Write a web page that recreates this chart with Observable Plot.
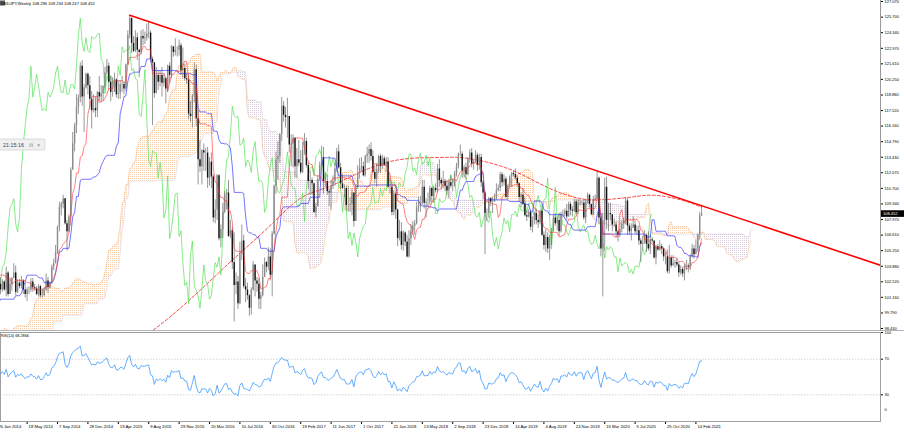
<!DOCTYPE html>
<html><head><meta charset="utf-8">
<script src="https://cdn.jsdelivr.net/npm/d3@7"></script>
<script src="https://cdn.jsdelivr.net/npm/@observablehq/plot@0.6"></script>
<style>
html,body{margin:0;padding:0;background:#fff;}
body{width:904px;height:434px;overflow:hidden;position:relative;font-family:"Liberation Sans",Arial,sans-serif;}
#main{position:absolute;left:0;top:0;}
#rsi{position:absolute;left:0;top:331px;}
.sep{position:absolute;background:#b4b4b4;}
</style></head><body>
<svg width="0" height="0" style="position:absolute"><defs>
<pattern id="cloudUp" width="2" height="2" patternUnits="userSpaceOnUse"><rect x="0" y="0" width="1" height="1" fill="#F4A460" fill-opacity="0.55"/></pattern>
<pattern id="cloudDn" width="2" height="2" patternUnits="userSpaceOnUse"><rect x="0" y="0" width="1" height="1" fill="#bcaabc" fill-opacity="0.6"/></pattern>
</defs></svg>
<div id="main"></div>
<div class="sep" style="left:0;top:330px;width:904px;height:1px"></div>
<div class="sep" style="left:880px;top:0;width:1px;height:331px;background:#9a9a9a"></div>
<div id="rsi"></div>
<script>
// ---- labels / meta ----
const symbol = "USDJPY";
const timeframe = "Weekly";
const rsiName = "RSI(14)";
const rsiLabelValue = "68.2866";
const clockText = "21:15:16";

// ---- weekly history before the visible window (5 Aug 2012 .. 19 Jan 2014), used by the indicators ----
const preHi = [78.9,79.6,79.6,78.9,78.9,78.5,79.2,78.1,78.8,78.9,
79.5,80.4,80.7,80.6,81.5,82.8,82.6,82.8,84.0,84.6,
86.0,88.4,89.7,90.2,91.0,92.9,94.1,94.5,94.0,94.8,
96.2,96.7,96.0,94.9,97.8,99.9,99.3,99.9,99.2,101.9,
103.3,103.7,102.5,100.8,98.8,98.3,99.2,101.2,101.5,101.0,
101.0,99.0,99.9,98.4,98.9,99.1,100.2,100.6,99.6,99.7,
98.5,98.7,99.0,98.5,98.8,99.1,100.4,101.6,102.4,103.4,
103.5,104.6,105.4,105.4,105.0,104.9,104.9];
const preLo = [78.1,78.2,78.4,78.2,78.1,77.1,77.9,77.4,77.7,78.0,
78.5,79.3,79.4,79.4,79.4,81.0,81.7,81.7,82.3,83.5,
84.3,85.9,87.1,88.4,88.1,90.5,91.9,92.2,92.6,90.9,
93.1,95.0,94.2,93.5,92.6,97.3,95.8,97.3,97.1,98.8,
101.0,100.7,97.8,95.6,93.8,93.9,96.8,98.9,98.1,99.2,
98.2,97.0,96.0,95.8,96.8,96.8,97.8,98.9,97.8,98.2,
96.9,96.6,97.6,97.2,97.2,97.6,98.8,99.7,101.1,101.6,
102.3,102.7,103.9,104.1,103.8,102.9,102.1];
const preCl = [78.3,79.5,78.7,78.4,78.2,78.4,77.9,77.9,78.7,78.4,
79.3,79.6,80.4,79.5,81.3,82.3,82.4,82.4,83.5,84.2,
85.9,88.1,89.2,90.1,90.8,92.7,93.6,93.5,93.4,93.6,
96.0,95.2,94.5,94.2,97.6,98.4,98.0,98.0,99.0,101.6,
102.2,101.0,100.4,97.5,94.2,97.9,99.1,101.1,99.2,100.5,
98.3,98.9,96.2,97.5,98.7,98.1,99.6,99.4,99.4,98.3,
97.5,98.6,97.8,97.4,98.7,99.0,100.2,101.3,102.4,102.9,
103.1,104.1,105.3,104.9,104.2,104.3,102.3];

// ---- visible weekly candles, week 0 = 26 Jan 2014 ----
const hi = [103.1,102.8,102.9,102.7,102.6,103.8,103.4,102.7,102.9,104.1,
103.9,102.7,102.7,103.0,102.7,102.4,102.0,102.1,102.8,102.8,
102.3,102.1,102.3,102.2,101.9,102.0,103.2,102.9,102.5,104.0,
104.5,105.7,107.4,109.5,109.5,110.1,109.7,107.9,108.4,112.5,
115.6,116.4,118.9,118.9,121.7,121.9,119.8,120.8,120.8,120.5,
119.2,118.9,118.7,119.2,120.5,119.7,119.7,121.3,122.0,121.7,
120.5,120.4,120.8,120.3,120.1,120.1,120.5,120.0,121.6,124.5,
125.86,125.3,124.0,124.5,124.3,122.9,124.5,124.6,124.4,125.1,
125.3,124.5,122.2,121.7,121.3,121.0,121.0,121.3,120.7,120.4,
121.5,121.7,123.2,123.1,123.8,123.1,123.7,123.4,123.0,121.5,
120.7,120.6,118.3,118.9,121.7,121.5,117.5,114.9,114.1,114.6,
114.2,114.3,113.4,113.8,111.9,109.7,111.9,111.9,107.5,109.4,
110.4,110.6,111.4,107.9,107.3,106.8,103.3,103.0,106.0,107.5,
106.6,102.8,102.4,101.4,102.0,104.3,104.0,102.9,102.8,101.6,
104.0,104.6,104.3,105.5,105.4,106.9,111.0,113.9,114.8,115.5,
118.66,118.3,117.8,118.6,116.9,115.4,115.4,115.1,114.2,114.9,
114.0,114.7,115.5,115.1,113.0,112.2,111.6,111.1,109.4,111.8,
113.0,114.4,114.3,112.1,111.9,110.7,111.4,111.8,112.9,114.2,
114.5,112.9,111.9,111.0,110.9,110.9,109.9,110.7,110.3,111.0,
112.7,113.3,113.4,113.0,113.6,114.3,114.5,114.7,114.0,112.6,
112.9,113.6,113.7,113.6,113.5,113.4,113.4,111.5,111.0,110.5,
110.4,108.9,107.9,107.7,107.0,106.9,106.6,107.0,107.5,107.8,
107.9,109.5,109.9,110.0,111.4,111.4,109.8,110.3,110.9,110.8,
110.9,111.1,112.8,113.2,111.6,112.2,111.5,111.4,111.5,111.8,
111.5,112.2,112.9,113.8,114.5,113.9,112.7,112.9,113.4,114.1,
114.2,113.2,114.0,113.8,113.7,113.7,111.4,110.5,108.9,109.9,
109.9,109.9,110.2,111.1,111.0,112.1,112.1,111.9,111.7,111.0,
111.8,112.1,112.2,112.4,111.8,111.2,110.3,110.7,109.9,108.7,
108.8,108.8,108.2,108.6,108.9,108.4,108.8,109.3,106.9,107.1,
106.8,106.6,107.2,108.3,108.5,108.2,108.5,108.6,108.8,108.9,
109.3,109.5,109.5,109.1,109.7,109.7,109.7,109.7,109.6,109.7,
109.7,110.3,110.2,109.3,110.0,110.1,112.2,111.7,108.5,108.5,
111.6,111.7,109.4,109.4,108.4,108.0,107.8,107.0,107.7,107.9,
108.1,109.9,109.8,107.6,107.6,108.2,107.8,107.4,107.4,106.3,
106.5,107.0,106.7,106.9,106.6,106.4,106.1,105.7,105.8,106.1,
105.8,105.5,105.1,105.3,105.7,104.8,104.8,104.4,104.6,104.2,
103.9,103.8,104.0,104.4,104.1,104.9,105.8,105.7,106.2,106.7,
108.6,109.234];
const lo = [101.8,100.8,101.4,101.6,101.7,101.2,101.2,101.4,101.7,102.8,
101.3,101.5,101.9,101.9,101.4,101.1,100.8,101.4,101.6,101.6,
101.7,101.3,101.2,101.1,101.1,101.2,101.7,101.5,101.9,102.3,
103.5,104.2,104.9,106.9,108.3,108.9,107.5,105.2,106.8,107.4,
112.5,113.9,115.5,117.2,118.2,117.9,115.6,119.4,118.9,117.6,
115.9,117.3,116.9,116.9,118.3,118.2,118.4,119.4,120.6,119.3,
118.3,118.7,119.3,118.6,118.5,118.5,119.1,118.9,119.2,121.5,
123.8,122.5,122.6,122.6,121.9,120.4,122.4,123.2,123.3,123.6,
123.8,121.7,116.2,118.6,119.3,119.3,119.6,118.7,119.6,118.1,
119.1,119.9,120.3,122.2,122.3,122.2,122.3,120.6,120.3,120.1,
119.8,116.7,116.5,116.0,118.2,116.1,111.0,112.1,111.0,112.2,
112.2,110.7,110.9,110.7,107.7,107.6,107.9,106.1,105.5,106.3,
108.5,108.8,106.4,106.3,103.6,99.0,101.4,100.1,100.5,104.4,
101.9,100.7,100.9,99.5,99.6,101.7,101.2,101.6,100.1,100.1,
101.2,103.0,103.3,103.5,102.6,101.2,106.6,110.2,111.4,112.9,
114.8,116.5,116.0,115.1,113.8,112.6,112.5,111.6,111.6,112.6,
111.9,112.0,113.6,112.5,110.6,110.1,110.1,108.5,108.1,109.1,
111.3,112.6,110.2,110.8,110.1,109.1,108.8,110.6,110.9,112.1,
112.4,110.6,110.6,109.9,108.7,108.6,108.6,108.3,107.3,107.9,
110.6,111.5,112.1,111.7,111.7,112.9,112.9,113.1,112.0,111.1,
110.8,112.0,112.0,112.4,112.6,112.1,110.7,110.2,108.3,108.3,
108.0,105.6,106.1,105.3,105.2,105.6,104.6,104.6,105.7,106.6,
106.6,107.5,108.6,108.6,109.2,108.9,108.1,109.0,109.2,109.4,
109.4,110.3,110.3,110.8,110.6,110.7,110.4,110.1,109.8,110.7,
110.4,110.8,111.7,112.4,113.5,111.6,111.6,111.4,111.8,112.9,
112.5,112.3,112.9,112.2,112.3,110.8,109.7,104.9,107.8,108.1,
109.1,108.5,109.6,109.8,110.4,110.4,110.8,110.9,109.8,109.7,
110.8,110.8,111.7,111.4,110.8,109.5,109.0,109.2,108.2,107.8,
108.1,107.0,106.8,107.5,107.5,107.2,107.5,106.5,105.3,105.1,
105.0,104.4,105.7,106.9,107.4,107.0,106.5,106.8,108.1,108.2,
107.9,108.2,108.3,108.2,108.6,108.4,108.4,109.2,109.2,107.9,
107.6,109.3,109.0,108.3,108.3,109.6,109.7,107.5,104.7,101.2,
105.2,107.1,106.9,107.9,106.9,107.3,106.4,106.0,106.4,106.8,
107.1,107.5,106.6,106.6,106.1,107.2,106.7,106.6,105.7,104.2,
105.3,105.8,105.1,105.2,104.9,105.9,104.5,104.0,105.2,105.2,
104.9,104.3,104.0,103.2,103.2,103.7,103.9,103.7,103.8,102.9,
103.1,102.9,102.6,103.5,103.3,103.5,104.6,104.5,104.9,105.1,
106.2,108.247];
const cl = [102.0,102.3,101.8,102.5,101.8,103.3,101.4,102.3,102.8,103.3,
101.6,102.4,102.1,102.6,101.8,101.4,101.8,101.8,102.5,102.0,
101.9,101.4,102.1,101.3,101.3,101.8,102.6,102.0,102.4,103.8,
104.1,105.1,107.3,109.0,109.3,109.8,107.6,106.9,108.2,112.3,
114.6,116.2,117.8,118.6,121.4,118.7,119.5,120.7,119.7,118.5,
117.5,117.7,117.5,119.1,118.7,119.0,119.6,120.8,121.4,120.0,
119.1,119.1,120.2,118.9,119.0,119.8,119.8,119.4,121.5,124.1,
125.6,123.4,122.7,123.9,122.8,122.6,124.0,123.8,123.9,124.2,
124.3,122.0,121.7,119.0,120.6,120.0,120.6,119.9,120.3,119.4,
121.4,120.6,123.1,122.6,122.8,122.8,123.2,121.0,121.2,120.3,
120.2,117.2,117.0,118.8,121.1,116.8,113.2,112.6,114.0,113.8,
113.8,111.6,113.0,111.7,108.1,108.8,111.8,106.3,107.1,108.6,
110.2,110.3,106.5,107.0,104.2,102.2,102.5,100.6,104.9,106.1,
102.1,101.8,101.3,100.2,101.8,104.0,102.6,102.3,101.0,101.3,
102.9,104.2,103.8,104.7,103.1,106.7,110.9,113.2,113.5,115.4,
117.9,117.1,116.9,117.0,114.5,114.6,115.1,112.6,113.2,112.9,
112.1,114.0,114.8,112.7,111.3,111.4,111.1,108.6,109.1,111.5,
112.7,113.4,111.3,111.3,110.4,110.3,110.9,111.3,112.4,113.9,
112.5,111.1,110.7,110.7,109.2,109.2,109.3,110.3,107.8,110.8,
112.0,112.5,112.6,111.8,113.5,113.7,114.1,113.5,112.1,111.5,
112.2,113.5,112.6,113.3,112.7,113.0,110.8,110.8,108.6,110.2,
108.8,106.3,106.9,105.7,106.8,106.0,104.7,106.3,106.9,107.4,
107.6,109.0,109.1,109.4,110.8,109.4,109.5,109.5,110.7,110.0,
110.7,110.5,112.4,111.4,111.1,111.3,110.9,110.5,111.2,110.9,
110.9,112.0,112.6,113.7,113.7,112.2,112.5,111.9,113.2,113.8,
112.8,113.0,113.6,112.7,113.4,111.2,110.3,108.5,108.5,109.8,
109.5,109.5,109.7,110.5,110.7,111.9,111.2,111.5,109.9,110.9,
111.7,112.0,111.9,111.6,111.1,109.9,110.1,109.3,108.3,108.2,
108.6,107.3,107.9,108.5,107.9,107.7,108.7,106.6,105.7,106.4,
105.4,106.3,106.9,108.1,107.6,107.9,106.9,108.4,108.4,108.7,
108.2,109.3,108.8,108.7,109.5,108.6,109.4,109.4,109.4,108.1,
109.5,110.1,109.3,108.4,109.7,109.8,111.6,108.1,105.4,107.9,
110.8,107.9,108.5,108.4,107.5,107.5,106.9,106.6,107.1,107.6,
107.8,109.6,107.4,106.9,107.2,107.5,106.9,107.0,106.1,105.8,
105.9,106.6,105.8,105.4,106.2,106.1,104.6,105.6,105.3,105.6,
105.4,104.7,104.7,103.4,104.6,103.9,104.1,104.2,104.0,103.3,
103.6,103.2,103.9,103.9,103.8,104.7,105.4,104.9,105.4,106.6,
108.296,108.452];

// ---- 200-week moving average (red dashed) ----
const smaWeeks  = [66,82,107,125,143,160,177,204,230,244,258,274,291,306,318,334,346,360,371];
const smaValues = [97.0,98.25,101.77,104.58,107.3,109.85,111.0,112.93,113.4,113.4,113.0,112.1,110.7,109.85,109.7,109.94,110.1,109.7,109.06];

// ---- hand-drawn trend line ----
const trendWeeks  = [70, 466];
const trendPrices = [125.86, 103.92];

// ---- axes ----
const priceTicks = [98.430,99.790,101.160,102.520,103.880,105.250,106.610,107.970,109.340,110.700,112.070,113.430,114.790,116.160,117.520,118.880,120.250,121.610,122.970,124.340,125.700,127.070];
const dateLabels = ["26 Jan 2014","18 May 2014","7 Sep 2014","28 Dec 2014","19 Apr 2015","9 Aug 2015","29 Nov 2015","20 Mar 2016","10 Jul 2016","30 Oct 2016","19 Feb 2017","11 Jun 2017","1 Oct 2017","21 Jan 2018","13 May 2018","2 Sep 2018","23 Dec 2018","14 Apr 2019","4 Aug 2019","24 Nov 2019","15 Mar 2020","5 Jul 2020","25 Oct 2020","14 Feb 2021"];
const dateWeeks = [0,16,32,48,64,80,96,112,128,144,160,176,192,208,224,240,256,272,288,304,320,336,352,368];
const rsiTicks = [30,70,100];
const rsiLevels = [30,70];
const rsiZero = ["0"];
const xDomain = [2, 465.16];
const yDomain = [98.255, 127.158];

// ---- build tables ----
const H = preHi.concat(hi), L = preLo.concat(lo), C = preCl.concat(cl);
const off = preCl.length, N = C.length;
const candles = cl.map((c, i) => {
  const o = C[off + i - 1];
  return {w: i, o, c, h: Math.max(hi[i], o, c), l: Math.min(lo[i], o, c), up: c >= o};
});
function mid(k, n) {
  if (k - n + 1 < 0) return null;
  let mx = -Infinity, mn = Infinity;
  for (let j = k - n + 1; j <= k; j++) { mx = Math.max(mx, H[j]); mn = Math.min(mn, L[j]); }
  return (mx + mn) / 2;
}
const ichi = [], cloud = [];
for (let k = 0; k < N; k++) {
  const w = k - off, t = mid(k, 9), kj = mid(k, 26), b = mid(k, 52);
  ichi.push({w, t, kj});
  if (t != null && kj != null && b != null) {
    const a = (t + kj) / 2;
    cloud.push({w: w + 26, a, b, top: Math.max(a, b)});
  }
}
const chikou = C.map((c, k) => ({w: k - off - 26, c}));
const rsi = [];
{
  let ag = 0, al = 0;
  for (let k = 1; k < N; k++) {
    const d = C[k] - C[k - 1], g = Math.max(d, 0), l = Math.max(-d, 0);
    if (k <= 14) { ag += g / 14; al += l / 14; if (k === 14) rsi.push({w: k - off, r: 100 - 100 / (1 + ag / al)}); }
    else { ag = (ag * 13 + g) / 14; al = (al * 13 + l) / 14; rsi.push({w: k - off, r: al === 0 ? 100 : 100 - 100 / (1 + ag / al)}); }
  }
}
const sma = smaWeeks.map((w, i) => ({w, v: smaValues[i]}));
const trend = trendWeeks.map((w, i) => ({w, v: trendPrices[i]}));
const dates = dateWeeks.map((w, i) => ({w, label: dateLabels[i]}));

const baseStyle = {fontFamily: "'Liberation Sans', Arial, sans-serif", fontSize: "4px", color: "#000", background: "transparent", overflow: "visible"};

const main = Plot.plot({
  width: 904, height: 330, marginLeft: 0, marginRight: 24, marginTop: 0, marginBottom: 0,
  style: baseStyle,
  x: {domain: xDomain, axis: null},
  y: {domain: yDomain, axis: "right", ticks: priceTicks, tickFormat: d => d.toFixed(3), tickSize: 2, tickPadding: 2, label: null},
  marks: [
    Plot.areaY(cloud, {x: "w", y1: "b", y2: "top", fill: "url(#cloudUp)", clip: true}),
    Plot.areaY(cloud, {x: "w", y1: "a", y2: "top", fill: "url(#cloudDn)", clip: true}),
    Plot.line(cloud, {x: "w", y: "a", stroke: "#F4A460", strokeWidth: 0.6, strokeOpacity: 0.8, strokeDasharray: "1,1", clip: true}),
    Plot.line(cloud, {x: "w", y: "b", stroke: "#D0C0D0", strokeWidth: 0.6, strokeOpacity: 0.9, strokeDasharray: "1,1", clip: true}),
    Plot.line(sma, {x: "w", y: "v", stroke: "#ff1a1a", strokeWidth: 0.8, strokeDasharray: "3,2", curve: "natural", clip: true}),
    Plot.line(chikou, {x: "w", y: "c", stroke: "#4ee24e", strokeWidth: 0.8, strokeOpacity: 0.85, clip: true}),
    Plot.ruleX(candles, {x: "w", y1: "l", y2: "h", stroke: "#505050", strokeWidth: 0.6, clip: true}),
    Plot.ruleX(candles.filter(d => d.up), {x: "w", y1: "o", y2: "c", stroke: "#8c8c8c", strokeWidth: 1.4, clip: true}),
    Plot.ruleX(candles.filter(d => !d.up), {x: "w", y1: "o", y2: "c", stroke: "#141414", strokeWidth: 1.4, clip: true}),
    Plot.line(ichi, {x: "w", y: "kj", stroke: "#2525ff", strokeWidth: 0.8, strokeOpacity: 0.8, clip: true}),
    Plot.line(ichi, {x: "w", y: "t", stroke: "#ff3030", strokeWidth: 0.8, strokeOpacity: 0.75, clip: true}),
    Plot.line(trend, {x: "w", y: "v", stroke: "#ff0000", strokeWidth: 1.6, clip: true})
  ]
});
document.getElementById("main").append(main);

const rsiChart = Plot.plot({
  width: 904, height: 103, marginLeft: 0, marginRight: 24, marginTop: 1, marginBottom: 13,
  style: baseStyle,
  x: {domain: xDomain, ticks: dateWeeks, tickFormat: () => "", tickSize: 3, label: null},
  y: {domain: [0, 100], axis: "right", ticks: rsiTicks, tickSize: 2, tickPadding: 2, label: null},
  marks: [
    Plot.frame({stroke: "#a0a0a0"}),
    Plot.ruleY(rsiLevels, {stroke: "#b8b8b8", strokeWidth: 0.6, strokeDasharray: "1.5,1.5"}),
    Plot.line(rsi, {x: "w", y: "r", stroke: "#3d9aff", strokeWidth: 0.8, clip: true}),
    Plot.text(dates, {x: "w", text: "label", frameAnchor: "bottom", textAnchor: "start", dx: 1.5, dy: 6, fontSize: 4.2, fill: "#000"}),
    Plot.text(rsiZero, {text: d => d, frameAnchor: "bottom-right", textAnchor: "start", dx: 4, dy: -11, fontSize: 4, fill: "#000"})
  ]
});
document.getElementById("rsi").append(rsiChart);

// ---- overlay texts ----
const f3 = v => v.toFixed(3);
const last = candles[candles.length - 1];
const headerText = `${symbol},${timeframe}  ${[last.o, hi[hi.length - 1], lo[lo.length - 1], last.c].map(f3).join(" ")}`;
let yScale;
try { const s = main.scale("y"); yScale = v => s.apply(v); } catch (e) { yScale = d3.scaleLinear(yDomain, [330, 0]); }
const py = yScale(last.c);

const over = d3.select("body").append("svg")
  .attr("width", 904).attr("height", 434)
  .style("position", "absolute").style("left", "0px").style("top", "0px")
  .style("font-family", "'Liberation Sans', Arial, sans-serif");
over.append("rect").attr("x", 0).attr("y", 0.5).attr("width", 5).attr("height", 5).attr("fill", "#555");
over.append("text").attr("x", 1).attr("y", 5).attr("font-size", 4.1).attr("fill", "#000").text(headerText);
over.append("rect").attr("x", -1).attr("y", 139).attr("width", 46).attr("height", 11).attr("rx", 1.5)
  .attr("fill", "#f0f0f0").attr("stroke", "#c8c8c8").attr("stroke-width", 0.6);
over.append("text").attr("x", 3).attr("y", 146.6).attr("font-size", 5.4).attr("fill", "#444").text(clockText);
over.append("text").attr("x", 28.5).attr("y", 146.6).attr("font-size", 5).attr("fill", "#777").text("⊡");
over.append("text").attr("x", 37).attr("y", 146.8).attr("font-size", 5.4).attr("fill", "#777").text("×");
over.append("rect").attr("x", 881).attr("y", py - 3.3).attr("width", 23).attr("height", 6.6).attr("fill", "#000");
over.append("text").attr("x", 883).attr("y", py + 1.5).attr("font-size", 4).attr("fill", "#fff").text(f3(last.c));
over.append("text").attr("x", 1).attr("y", 337).attr("font-size", 3.8).attr("fill", "#000").text(`${rsiName} ${rsiLabelValue}`);
</script>
</body></html>
